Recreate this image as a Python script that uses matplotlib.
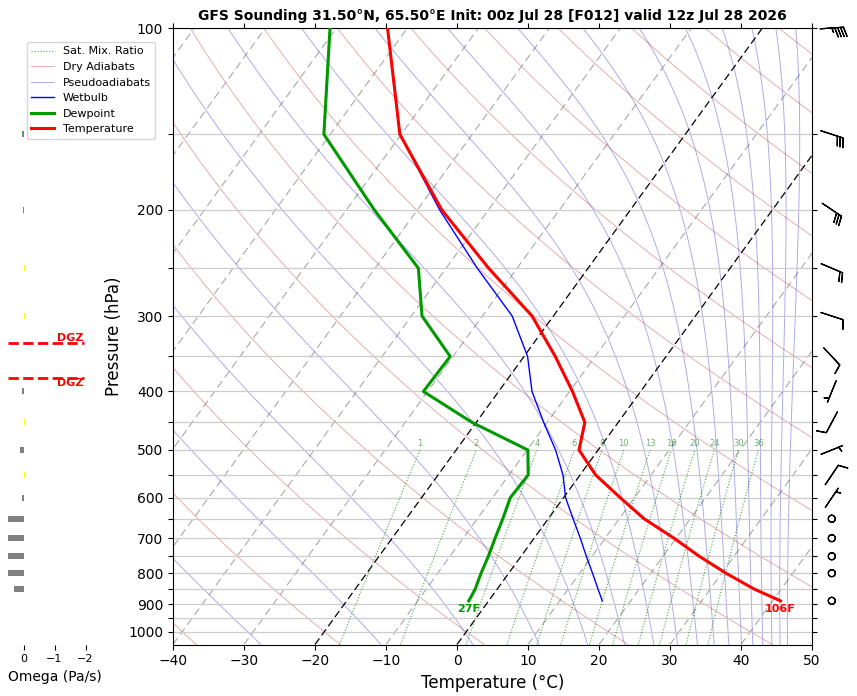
import numpy as np
import matplotlib
matplotlib.use('Agg')
import matplotlib.pyplot as plt
from matplotlib.ticker import FixedLocator, FuncFormatter, NullLocator

# sounding levels (hPa), surface first
pres = [889, 850, 800, 750, 700, 650, 600, 550, 500, 450, 400, 350, 300, 250, 200, 150, 100]
temp = [41.1, 36.2, 30.6, 25.1, 19.7, 13.5, 8.0, 2.2, -2.7, -4.7, -9.6, -15.6, -23.0, -34.0, -46.6, -60.2, -72.8]
dewp = [-2.8, -3.1, -3.9, -4.6, -5.5, -6.4, -7.5, -7.3, -9.9, -20.6, -30.6, -30.4, -38.5, -43.9, -56.1, -70.9, -80.9]
wetb = [16.0, 14.2, 11.8, 9.2, 6.5, 3.5, 0.3, -2.4, -6.0, -10.5, -15.3, -19.5, -25.8, -35.6, -46.9, -60.2, -72.8]

# winds (direction from, knots)
wind_p = [889, 800, 750, 700, 650, 600, 550, 500, 450, 400, 350, 300, 250, 200, 150, 100]
wind_dir = [0, 0, 0, 0, 0, 34, 34, 68, 208, 202, 137, 108, 113, 124, 108, 86]
wind_spd = [0, 0, 0, 0, 0, 5, 10, 5, 10, 5, 10, 10, 20, 30, 30, 45]

# omega (Pa/s)
omega_p = [850, 800, 750, 700, 650, 600, 550, 500, 450, 400, 350, 300, 250, 200, 150, 100]
omega = [0.32, 0.6, 0.6, 0.6, 0.6, 0.04, -0.05, 0.1, -0.05, 0.04, 0.0, -0.05, -0.04, 0.03, 0.04, 0.0]

# dendritic growth zone bounds (hPa)
dgz_p = [380, 333]

mix_ratios = [1, 2, 4, 6, 8, 10, 13, 16, 20, 24, 30, 36]

title = "GFS Sounding 31.50°N, 65.50°E Init: 00z Jul 28 [F012] valid 12z Jul 28 2026"

P_BOT = 1050.
P_TOP = 100.
K = 26.8  # skew (degC per ln p)


def skew(t, p):
    return np.asarray(t, dtype=float) + K * np.log(P_BOT / np.asarray(p, dtype=float))


def sat_vap(tc):
    return 6.112 * np.exp(17.67 * tc / (tc + 243.5))


def theta_e_sat(tk, p):
    es = sat_vap(tk - 273.15)
    r = 622. * es / (p - es)
    return tk * (1000. / p) ** (0.2854 * (1 - 0.00028 * r)) * \
        np.exp((3.376 / tk - 0.00254) * r * (1 + 0.00081 * r))


fig = plt.figure(figsize=(8.57, 6.96), dpi=100)
ax = fig.add_axes([173 / 857, (696 - 644.5) / 696, 639 / 857, 616.5 / 696])
ax.set_yscale('log')

pp = np.geomspace(P_BOT, P_TOP, 120)

# isotherms
for t in range(-150, 51, 10):
    if t in (0, -20):
        ax.plot(skew(t, pp), pp, color='k', lw=0.9, ls=(0, (6, 3)), zorder=2)
    else:
        ax.plot(skew(t, pp), pp, color='#a8a8a8', lw=0.8, ls=(0, (7, 4)), zorder=1)

# mixing ratio lines
pm = np.linspace(P_BOT, 500, 60)
for i, w in enumerate(mix_ratios):
    e = pm * w / (622. + w)
    a = np.log(e / 6.112)
    td = 243.5 * a / (17.67 - a)
    ax.plot(skew(td, pm), pm, color='g', ls=':', lw=0.8, alpha=0.7, zorder=2,
            label='Sat. Mix. Ratio' if i == 0 else None)
    ax.text(skew(td[-1], 500), 497, str(w), color='g', alpha=0.6, fontsize=6,
            ha='center', va='bottom', zorder=3)

# dry adiabats
for i, th in enumerate(range(-40, 401, 20)):
    t = (th + 273.15) * (pp / 1000.) ** 0.2857 - 273.15
    ax.plot(skew(t, pp), pp, color='#c83030', lw=0.7, alpha=0.4, zorder=1,
            label='Dry Adiabats' if i == 0 else None)

# pseudoadiabats (saturated theta-e isopleths)
tk = np.arange(-165., 60., 0.05) + 273.15
te_targets = 243.15 + 20. * np.arange(17)
lines = np.full((len(te_targets), len(pp)), np.nan)
for j, p in enumerate(pp):
    ok = sat_vap(tk - 273.15) < 0.2 * p
    row = theta_e_sat(tk[ok], p)
    lines[:, j] = np.interp(te_targets, row, tk[ok], left=np.nan, right=np.nan) - 273.15
for i in range(len(te_targets)):
    ax.plot(skew(lines[i], pp), pp, color='#3030c8', lw=0.7, alpha=0.4, zorder=1,
            label='Pseudoadiabats' if i == 0 else None)

# profiles
ax.plot(skew(wetb, pres), pres, color='b', lw=1.0, zorder=4, label='Wetbulb')
ax.plot(skew(dewp, pres), pres, color='#009900', lw=2.2, zorder=5, label='Dewpoint')
ax.plot(skew(temp, pres), pres, color='r', lw=2.2, zorder=5, label='Temperature')

tf = temp[0] * 9 / 5 + 32
df = dewp[0] * 9 / 5 + 32
ax.annotate(f'{tf:.0f}F', (skew(temp[0], pres[0]), pres[0]), xytext=(0, -2),
            textcoords='offset points', ha='center', va='top', color='r',
            fontsize=8, fontweight='bold', zorder=6)
ax.annotate(f'{df:.0f}F', (skew(dewp[0], pres[0]), pres[0]), xytext=(0, -2),
            textcoords='offset points', ha='center', va='top', color='#009900',
            fontsize=8, fontweight='bold', zorder=6)

# wind barbs
wd = np.deg2rad(wind_dir)
u = -np.array(wind_spd) * np.sin(wd)
v = -np.array(wind_spd) * np.cos(wd)
ax.barbs(np.full(len(wind_p), 1.031), wind_p, u, v, transform=ax.get_yaxis_transform(),
         clip_on=False, pivot='middle', length=5.8, lw=0.9, zorder=6)

ax.set_ylim(P_BOT, P_TOP)
ax.set_xlim(-40, 50)
ax.yaxis.set_major_locator(FixedLocator(np.arange(100, 1001, 50)))
ax.yaxis.set_major_formatter(FuncFormatter(lambda val, pos: f'{val:.0f}' if round(val) % 100 == 0 else ''))
ax.yaxis.set_minor_locator(NullLocator())
ax.set_xticks(np.arange(-40, 51, 10))
ax.grid(axis='y', color='#cccccc', lw=0.9, zorder=0)
ax.tick_params(axis='y', right=True, labelsize=10)
ax.tick_params(axis='x', top=True, labelsize=10)
ax.set_xlabel('Temperature (°C)', fontsize=12)
ax.set_ylabel('Pressure (hPa)', fontsize=12)
ax.set_title(title, fontsize=10, fontweight='bold')

handles, labels = ax.get_legend_handles_labels()
fig.legend(handles, labels, loc='upper left', bbox_to_anchor=(27 / 857, 1 - 42 / 696),
           borderaxespad=0, fontsize=8)

# omega panel
axo = fig.add_axes([8 / 857, (696 - 644.5) / 696, 93 / 857, 616.5 / 696])
axo.set_yscale('log')
cols = ['yellow' if w < 0 else 'gray' for w in omega]
axo.barh(omega_p, omega, height=np.array(omega_p) * 0.023, color=cols)
for k, p in enumerate(dgz_p):
    axo.plot([0.5, -1.95], [p, p], color='r', ls='--', lw=2)
    axo.text(-1.95, p, 'DGZ', color='r', fontsize=8, fontweight='bold', ha='right',
             va='top' if k == 0 else 'bottom')
axo.set_ylim(P_BOT, P_TOP)
axo.set_xlim(0.5, -2.5)
axo.set_xticks([0, -1, -2])
axo.tick_params(axis='x', labelsize=8)
axo.set_yticks([])
axo.yaxis.set_minor_locator(NullLocator())
for s in axo.spines.values():
    s.set_visible(False)
axo.set_xlabel('Omega (Pa/s)', fontsize=10)

fig.savefig('out.png', dpi=100)
